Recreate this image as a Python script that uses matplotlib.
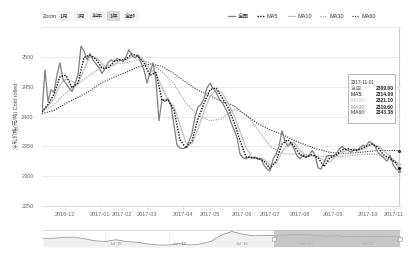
import numpy as np
import matplotlib
matplotlib.use('Agg')
import matplotlib.pyplot as plt
import matplotlib.dates as mdates
from matplotlib.lines import Line2D
from matplotlib.patches import Rectangle
import pandas as pd

plt.rcParams['font.family'] = ['Liberation Sans', 'Noto Sans CJK SC', 'DejaVu Sans']

W, H = 412, 258

# ---------------- data ----------------
# main series (全国), one value per ~2 trading days, 2016-11 .. 2017-11-01
main_values = [2408, 2478, 2425, 2445, 2440, 2470, 2490, 2462, 2455, 2448,
               2442, 2455, 2470, 2518, 2510, 2495, 2505, 2495, 2488, 2482,
               2472, 2480, 2490, 2495, 2492, 2497, 2495, 2492, 2500, 2512,
               2502, 2498, 2503, 2490, 2478, 2456, 2473, 2490, 2460, 2393,
               2428, 2425, 2430, 2418, 2385, 2352, 2347, 2346, 2348, 2358,
               2372, 2400, 2416, 2420, 2430, 2448, 2456, 2447, 2441, 2430,
               2424, 2415, 2405, 2390, 2378, 2365, 2337, 2331, 2329, 2333,
               2330, 2332, 2328, 2330, 2318, 2312, 2309, 2328, 2337, 2350,
               2376, 2358, 2350, 2356, 2346, 2334, 2329, 2335, 2331, 2334,
               2343, 2336, 2314, 2312, 2323, 2334, 2335, 2334, 2337, 2345,
               2350, 2345, 2343, 2340, 2345, 2342, 2348, 2352, 2350, 2358,
               2355, 2350, 2340, 2335, 2330, 2325, 2335, 2320, 2312, 2309]
main_day = list(range(len(main_values)))

ma_short_day = list(range(0, 119, 2)) + [119]
ma5_values = [2408, 2420, 2437, 2467, 2469, 2448, 2456, 2499, 2503, 2496,
              2481, 2481, 2492, 2495, 2496, 2505, 2501, 2490, 2469, 2474,
              2427, 2428, 2411, 2361, 2347, 2359, 2396, 2422, 2445, 2448,
              2432, 2415, 2391, 2360, 2332, 2331, 2330, 2325, 2313, 2325,
              2354, 2361, 2351, 2336, 2332, 2336, 2331, 2316, 2331, 2335,
              2344, 2346, 2343, 2345, 2350, 2354, 2348, 2335, 2330, 2322, 2314]
ma10_values = [2408, 2418, 2430, 2454, 2463, 2459, 2454, 2479, 2500, 2499,
               2488, 2482, 2486, 2494, 2495, 2500, 2503, 2494, 2480, 2471,
               2449, 2427, 2417, 2386, 2356, 2354, 2379, 2408, 2434, 2444,
               2440, 2423, 2402, 2375, 2348, 2332, 2330, 2328, 2319, 2321,
               2340, 2354, 2357, 2343, 2335, 2334, 2332, 2326, 2324, 2333,
               2340, 2344, 2345, 2344, 2347, 2353, 2351, 2342, 2333, 2324, 2321]

ma_long_day = list(range(0, 117, 4)) + [119]
ma30_values = [2408, 2420, 2440, 2455, 2470, 2482, 2488, 2490, 2495, 2490,
               2475, 2455, 2422, 2402, 2393, 2396, 2412, 2404, 2378, 2350,
               2338, 2337, 2336, 2334, 2332, 2333, 2335, 2337, 2336, 2328, 2320]
ma60_values = [2405, 2410, 2422, 2432, 2443, 2457, 2466, 2474, 2483, 2488,
               2484, 2472, 2457, 2444, 2435, 2425, 2418, 2402, 2388, 2378,
               2370, 2360, 2352, 2345, 2340, 2338, 2339, 2341, 2343, 2343, 2343]

month_labels = ['2016-12', '2017-01', '2017-02', '2017-03', '2017-04', '2017-05',
                '2017-06', '2017-07', '2017-08', '2017-09', '2017-10', '2017-11']
month_start_day = [7.7, 19.3, 26.7, 35.0, 47.0, 56.0, 66.7, 76.0, 86.0, 97.0, 108.7, 117.3]

y_ticks = [2250, 2300, 2350, 2400, 2450, 2500, 2550]
y_tick_labels = ['2250', '2300', '2350', '2400', '2450', '2500', '']

# navigator (monthly, 2015-01 .. 2017-11)
nav_months = pd.date_range('2015-01-01', '2017-11-01', freq='MS')
nav_values = [2192, 2192, 2277, 2285, 2150, 1980, 1920, 2065, 1903, 1860,
              1707, 1622, 1622, 1733, 1622, 1707, 1920, 2472, 2770, 2540,
              2405, 2430, 2440, 2470, 2495, 2495, 2450, 2370, 2420, 2345,
              2325, 2335, 2336, 2348, 2309]
nav_label_dates = ['2015-07-01', '2016-01-01', '2016-07-01', '2017-01-01', '2017-07-01']
nav_labels = ["Jul '15", "Jan '16", "Jul '16", "Jan '17", "Jul '17"]

series_names = ['全国', 'MA5', 'MA10', 'MA30', 'MA60']
tooltip_date = '2017-11-01'
tooltip_values = ['2309.00', '2314.00', '2321.10', '2319.60', '2343.38']
zoom_buttons = ['1月', '3月', '半年', '1年', '全部']
y_title = '冷轧价格(元/吨) Cold rolled'

# ---------------- styles ----------------
styles = {
    '全国': dict(color='#808080', lw=0.9, ls='-'),
    'MA5': dict(color='#111111', lw=1.0, ls=(0, (1, 1))),
    'MA10': dict(color='#c2c2c2', lw=0.9, ls='-'),
    'MA30': dict(color='#9a9a9a', lw=0.8, ls=(0, (1, 1.2))),
    'MA60': dict(color='#3a3a3a', lw=0.8, ls=(0, (1, 1.2))),
}


def fx(px):
    return px / W


def fy(py):
    return 1 - py / H


fig = plt.figure(figsize=(W / 100, H / 100), dpi=100)

# ---------------- main axes ----------------
L, R, T, B = 42, 401, 27, 206
ax = fig.add_axes([fx(L), fy(B), (R - L) / W, (B - T) / H])
ax.set_xlim(0, (R - L) / 3)
ax.set_ylim(2250, 2550)
ax.set_yticks(y_ticks)
ax.set_yticklabels(y_tick_labels)
ax.yaxis.grid(True, color='#e6e6e6', lw=0.6)
ax.set_axisbelow(True)
for s in ['top', 'right', 'left']:
    ax.spines[s].set_visible(False)
ax.spines['bottom'].set_color('#d6d6d6')
ax.spines['bottom'].set_linewidth(0.6)
ax.tick_params(axis='y', length=0, pad=6, labelsize=4, labelcolor='#666666')
ax.set_xticks(month_start_day)
ax.set_xticklabels(month_labels)
ax.tick_params(axis='x', length=3, width=0.5, color='#d6d6d6', pad=1.5,
               labelsize=4, labelcolor='#666666')

series = [
    ('MA60', ma_long_day, ma60_values),
    ('MA30', ma_long_day, ma30_values),
    ('MA10', ma_short_day, ma10_values),
    ('全国', main_day, main_values),
    ('MA5', ma_short_day, ma5_values),
]
for name, xs, ys in series:
    st = styles[name]
    ax.plot(xs, ys, color=st['color'], lw=st['lw'], ls=st['ls'], solid_joinstyle='round')
    ax.plot([xs[-1]], [ys[-1]], marker='o', ms=2.6, color=st['color'],
            mec='white', mew=0.3, clip_on=False, zorder=5)

# crosshair
ax.axvline(main_day[-1], color='#cccccc', lw=0.8, zorder=0)

# y title
fig.text(fx(16), fy(116), y_title, rotation=90, ha='center', va='center',
         fontsize=4, color='#555555')

# ---------------- zoom buttons ----------------
fig.text(fx(43), fy(16), 'Zoom', fontsize=4, color='#333333', ha='left', va='center')
btn_x = [63.5, 81, 97.5, 113.5, 130.5]
for i, (lab, bx) in enumerate(zip(zoom_buttons, btn_x)):
    fc = '#d9d9d9' if lab == '1年' else '#f4f4f4'
    fig.text(fx(bx), fy(16), lab, fontsize=4, color='#333333', ha='center', va='center',
             bbox=dict(boxstyle='square,pad=0.45', fc=fc, ec='none'))

# ---------------- legend ----------------
leg_x = [228, 257, 288, 320, 352]
for name, lx in zip(series_names, leg_x):
    st = styles[name]
    fig.add_artist(Line2D([fx(lx), fx(lx + 7)], [fy(16), fy(16)], color=st['color'],
                          lw=st['lw'], ls=st['ls'], transform=fig.transFigure))
    fig.text(fx(lx + 9.5), fy(16), name, fontsize=4, color='#333333', ha='left', va='center')

# ---------------- tooltip ----------------
fig.add_artist(Rectangle((fx(348), fy(123)), 47 / W, 49 / H, transform=fig.transFigure,
                         fc='white', ec='#a8a8a8', lw=0.6, alpha=0.95, zorder=10))
fig.text(fx(351), fy(82), tooltip_date, fontsize=3.4, color='#333333', ha='left',
         va='center', zorder=11)
for i, (name, val) in enumerate(zip(series_names, tooltip_values)):
    yy = 89 + i * 6
    t = fig.text(fx(351), fy(yy), name + ': ', fontsize=3.6, color=styles[name]['color'],
                 ha='left', va='center', zorder=11)
    fig.text(fx(394), fy(yy), val, fontsize=3.6, color='#222222', ha='right',
             va='center', fontweight='bold', zorder=11)

# ---------------- navigator ----------------
NL, NR, NT, NB = 43, 401, 230, 247
nav = fig.add_axes([fx(NL), fy(NB), (NR - NL) / W, (NB - NT) / H])
nav.set_xlim(pd.Timestamp('2015-01-01'), pd.Timestamp('2017-11-03'))
nav.set_ylim(1452, 2897)
nav.fill_between(nav_months, nav_values, 1452, color='#f0f0f0', lw=0)
nav.plot(nav_months, nav_values, color='#9a9a9a', lw=0.6)
for d, lab in zip(nav_label_dates, nav_labels):
    dt = pd.Timestamp(d)
    nav.axvline(dt, color='#e6e6e6', lw=0.5, zorder=0)
    nav.text(dt + pd.Timedelta(days=12), 1560, lab, fontsize=3, color='#888888',
             ha='left', va='bottom')
nav.axvspan(pd.Timestamp('2016-11-01'), pd.Timestamp('2017-11-01'),
            color='#b8b8b8', alpha=0.75, lw=0, zorder=3)
for d in ['2016-11-01', '2017-11-01']:
    nav.plot([pd.Timestamp(d)], [2170], marker='s', ms=2.6, mfc='#f2f2f2', mec='#999999',
             mew=0.4, zorder=6, clip_on=False)
nav.set_xticks([])
nav.set_yticks([])
for s in ['left', 'right', 'bottom']:
    nav.spines[s].set_visible(False)
nav.spines['top'].set_color('#cccccc')
nav.spines['top'].set_linewidth(0.5)

fig.savefig('out.png', dpi=100)
